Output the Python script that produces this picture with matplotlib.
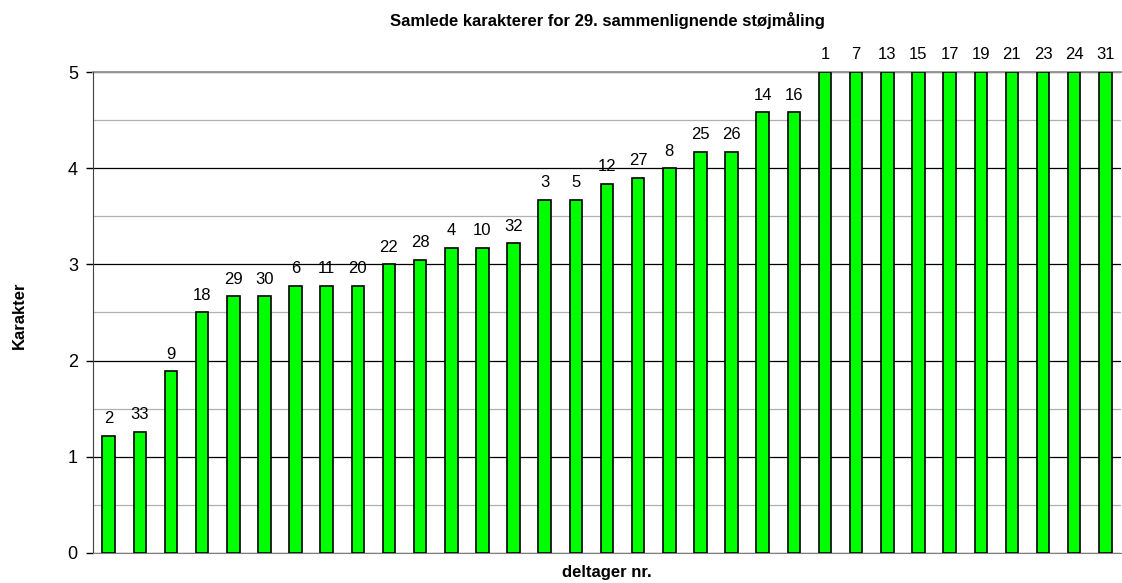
import matplotlib.pyplot as plt
import numpy as np

plt.rcParams['font.family'] = ['Liberation Sans', 'DejaVu Sans']

# deltager numre sorteret efter karakter
deltagere = ['2', '33', '9', '18', '29', '30', '6', '11', '20', '22', '28',
             '4', '10', '32', '3', '5', '12', '27', '8', '25', '26', '14',
             '16', '1', '7', '13', '15', '17', '19', '21', '23', '24', '31']
karakterer = [1.22, 1.26, 1.89, 2.5, 2.67, 2.67, 2.78, 2.78, 2.78, 3.0, 3.05,
              3.17, 3.17, 3.22, 3.67, 3.67, 3.84, 3.9, 4.0, 4.17, 4.17, 4.58,
              4.58, 5, 5, 5, 5, 5, 5, 5, 5, 5, 5]

fig = plt.figure(figsize=(11.22, 5.83), dpi=100)
ax = fig.add_axes([0.083, 0.0515, 0.916, 0.825])

x = np.arange(len(deltagere))
bars = ax.bar(x, karakterer, width=0.4, color='#00ff00', edgecolor='black',
              linewidth=1.2, zorder=3)

for b, lab in zip(bars, deltagere):
    ax.text(b.get_x() + b.get_width() / 2, b.get_height() + 0.1, lab,
            ha='center', va='bottom', fontsize=12)

ax.set_xlim(-0.5, len(deltagere) - 0.5)
ax.set_ylim(0, 5)
ax.set_yticks([0, 1, 2, 3, 4, 5])
ax.set_yticks([0.5, 1.5, 2.5, 3.5, 4.5], minor=True)
ax.tick_params(axis='y', which='major', labelsize=13, length=5, width=1, pad=6)
ax.tick_params(axis='y', which='minor', length=0)
ax.set_xticks([])

ax.set_axisbelow(True)
ax.grid(axis='y', which='major', color='black', linewidth=0.9)
ax.grid(axis='y', which='minor', color='#b0b0b0', linewidth=0.9)
ax.axhline(5, color='#999999', linewidth=1.4, zorder=2.5, clip_on=False)

for s in ['top', 'right']:
    ax.spines[s].set_visible(False)
ax.spines['bottom'].set_color('#808080')
ax.spines['left'].set_color('#404040')

ax.set_title('Samlede karakterer for 29. sammenlignende støjmåling',
             fontsize=12, fontweight='bold', pad=33)
ax.set_ylabel('Karakter', fontsize=12, fontweight='bold')
ax.yaxis.set_label_coords(-0.064, 0.495)
ax.set_xlabel('deltager nr.', fontsize=12, fontweight='bold', labelpad=9)

fig.savefig('out.png', dpi=100)
